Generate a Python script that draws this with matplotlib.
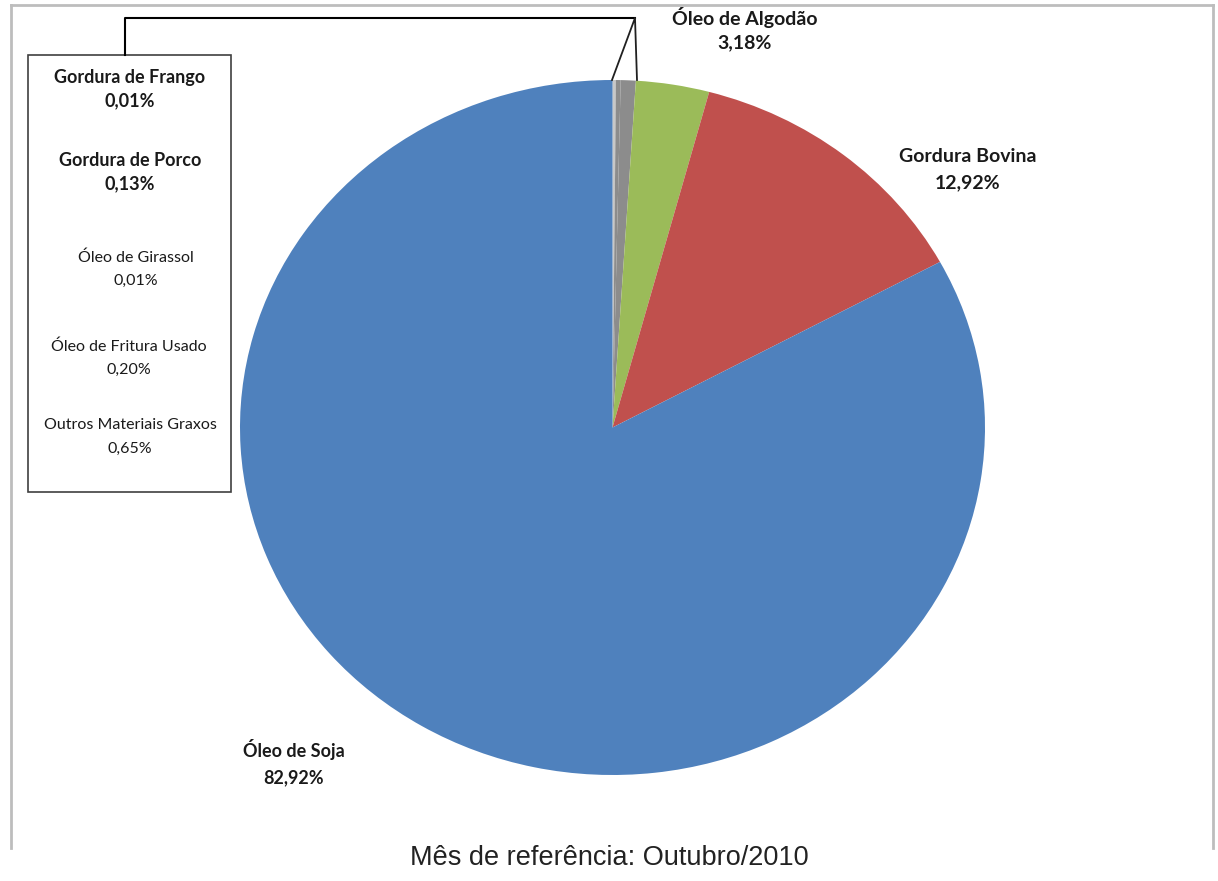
import matplotlib.pyplot as plt

# shares (%) clockwise from 12 o'clock
fontes = ["Gordura de Frango", "Gordura de Porco", "Óleo de Girassol",
          "Óleo de Fritura Usado", "Outros Materiais Graxos",
          "Óleo de Algodão", "Gordura Bovina", "Óleo de Soja"]
valores = [0.01, 0.13, 0.01, 0.20, 0.65, 3.18, 12.92, 82.92]
rotulos = ["0,01%", "0,13%", "0,01%", "0,20%", "0,65%", "3,18%", "12,92%", "82,92%"]
cores = ["#8C8C8C", "#C8C8C8", "#8C8C8C", "#8C8C8C", "#8C8C8C",
         "#9BBB59", "#C0504D", "#4F81BD"]

W, H = 1218, 881
fig = plt.figure(figsize=(W / 100, H / 100), dpi=100)
fig.patch.set_facecolor("white")

# pie axes (slightly elliptical, as in the original)
x0, y0, x1, y1 = 240, 80, 985, 775
ax = fig.add_axes([x0 / W, 1 - y1 / H, (x1 - x0) / W, (y1 - y0) / H])
ax.pie(valores, colors=cores, startangle=90, counterclock=False,
       wedgeprops={"linewidth": 0})
ax.set_aspect("auto")
ax.set_xlim(-1, 1)
ax.set_ylim(-1, 1)
ax.axis("off")

# overlay in pixel coordinates for callouts and labels
ov = fig.add_axes([0, 0, 1, 1], zorder=5)
ov.set_xlim(0, W)
ov.set_ylim(H, 0)
ov.axis("off")
ov.patch.set_alpha(0)

# outer chart border
borda = "#BDBDBD"
ov.plot([11, 11], [5, 848], color=borda, lw=2)
ov.plot([11, 1213], [5, 5], color=borda, lw=2)
ov.plot([1213, 1213], [5, 848], color=borda, lw=2)

# callout box for the small slices
ov.add_patch(plt.Rectangle((28, 55), 203, 437, fill=False, ec="#404040", lw=1.2))
ov.plot([125, 125, 635], [55, 18, 18], color="black", lw=1.5)
ov.plot([612, 635, 637], [80, 18, 80], color="#202020", lw=1.3)

fonte = ["Lato", "DejaVu Sans"]
cor_txt = "#1a1a1a"

def rotulo(x, y, nome, pct, size=12, bold=True, gap=24):
    w = "bold" if bold else "normal"
    ov.text(x, y, nome, ha="center", va="center", fontsize=size,
            fontweight=w, family=fonte, color=cor_txt)
    ov.text(x, y + gap, pct, ha="center", va="center", fontsize=size,
            fontweight=w, family=fonte, color=cor_txt)

rotulo(130, 78, fontes[0], rotulos[0], size=13, gap=23)
rotulo(130, 161, fontes[1], rotulos[1], size=13, gap=23)
rotulo(136, 258, fontes[2], rotulos[2], size=11.5, bold=False, gap=23)
rotulo(129, 347, fontes[3], rotulos[3], size=11.5, bold=False, gap=23)
rotulo(130, 425, fontes[4], rotulos[4], size=11.5, bold=False, gap=24)

rotulo(745, 17, fontes[5], rotulos[5], size=14, gap=26)
rotulo(968, 156, fontes[6], rotulos[6], size=14, gap=27)
rotulo(294, 750, fontes[7], rotulos[7], size=13, gap=28)

ov.text(609, 858, "Mês de referência: Outubro/2010", ha="center", va="center",
        fontsize=19.5, family=["Liberation Sans", "DejaVu Sans"], color="#222222")

fig.savefig("out.png", dpi=100, facecolor="white")
